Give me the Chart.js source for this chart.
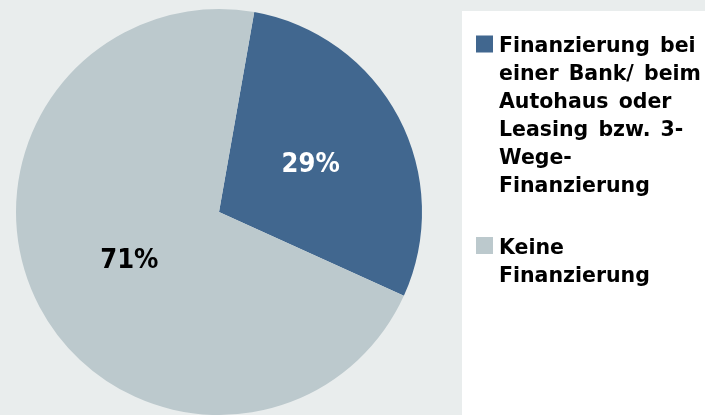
<!DOCTYPE html>
<html>
<head>
<meta charset="utf-8">
<script src="https://cdn.jsdelivr.net/npm/chart.js@4/dist/chart.umd.min.js"></script>
<style>
  html, body { margin: 0; padding: 0; background: #e9eded; }
  #wrap { width: 705px; height: 415px; }
</style>
</head>
<body>
<div id="wrap"><canvas id="c" width="705" height="415"></canvas></div>
<script>
// ---- data ----
const categories = [
  ["Finanzierung bei", "einer Bank/ beim", "Autohaus oder", "Leasing bzw. 3-", "Wege-", "Finanzierung"],
  ["Keine", "Finanzierung"]
];
const shares = [29, 71];
const valueLabels = ["29%", "71%"];

// ---- styles ----
const sliceColors = ["#41678f", "#bcc9cd"];
const labelColors = ["#ffffff", "#000000"];
const FONT_C = "'DejaVu Sans Condensed', 'DejaVu Sans', sans-serif";
const FONT = "'DejaVu Sans', sans-serif";

const bgPlugin = {
  id: 'bg',
  beforeDraw(chart) {
    const ctx = chart.ctx;
    ctx.save();
    ctx.fillStyle = '#e9eded';
    ctx.fillRect(0, 0, chart.width, chart.height);
    ctx.fillStyle = '#ffffff';
    ctx.fillRect(462, 11, chart.width - 462, chart.height - 11);
    ctx.restore();
  }
};

const sliceLabelPlugin = {
  id: 'sliceLabels',
  afterDatasetsDraw(chart) {
    const ctx = chart.ctx;
    const meta = chart.getDatasetMeta(0);
    ctx.save();
    ctx.font = "bold 27px " + FONT_C;
    ctx.textAlign = 'center';
    ctx.textBaseline = 'middle';
    meta.data.forEach((arc, i) => {
      const p = arc.getProps(['x', 'y', 'startAngle', 'endAngle', 'outerRadius'], true);
      const mid = (p.startAngle + p.endAngle) / 2;
      const r = p.outerRadius * 0.505;
      ctx.fillStyle = labelColors[i];
      ctx.fillText(valueLabels[i], p.x + Math.cos(mid) * r + 1, p.y + Math.sin(mid) * r + 1);
    });
    ctx.restore();
  }
};

const sideLegendPlugin = {
  id: 'sideLegend',
  afterDraw(chart) {
    const ctx = chart.ctx;
    const labels = chart.data.labels;
    const colors = chart.data.datasets[0].backgroundColor;
    const firstBaselines = [52, 253.5];
    const lineH = 28;
    ctx.save();
    ctx.font = "bold 20.5px " + FONT;
    if ('wordSpacing' in ctx) ctx.wordSpacing = '3px';
    ctx.textAlign = 'left';
    ctx.textBaseline = 'alphabetic';
    labels.forEach((lines, i) => {
      const b0 = firstBaselines[i];
      ctx.fillStyle = colors[i];
      ctx.fillRect(476, b0 - 16.5, 17, 17);
      ctx.fillStyle = '#000000';
      lines.forEach((t, j) => ctx.fillText(t, 499, b0 + j * lineH));
    });
    ctx.restore();
  }
};

new Chart(document.getElementById('c'), {
  type: 'pie',
  data: {
    labels: categories,
    datasets: [{
      data: shares,
      backgroundColor: sliceColors,
      borderWidth: 0,
      hoverOffset: 0,
      offset: 0
    }]
  },
  options: {
    responsive: false,
    animation: false,
    rotation: 10,
    layout: { padding: { left: 16, top: 9, right: 283, bottom: 0 } },
    plugins: {
      legend: { display: false },
      tooltip: { enabled: false }
    },
    events: []
  },
  plugins: [bgPlugin, sliceLabelPlugin, sideLegendPlugin]
});
</script>
</body>
</html>
